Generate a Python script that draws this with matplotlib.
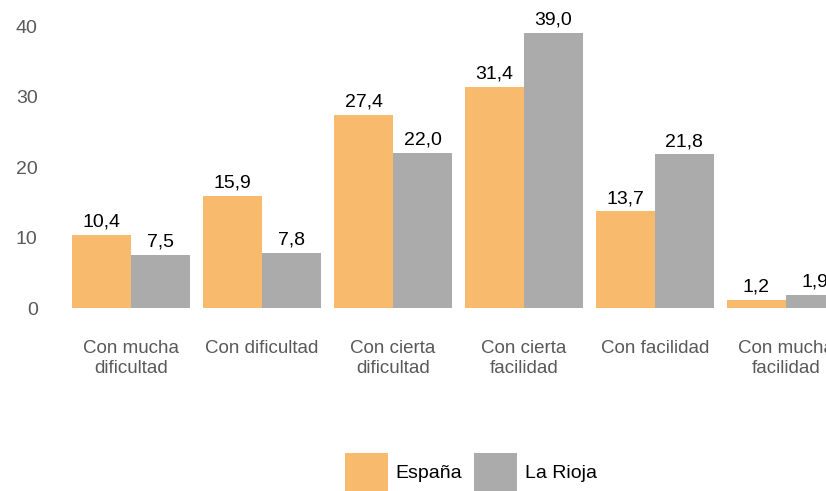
import matplotlib.pyplot as plt
import numpy as np

plt.rcParams["font.family"] = ["Liberation Sans", "DejaVu Sans"]

# datos
categorias = ["Con mucha\ndificultad", "Con dificultad", "Con cierta\ndificultad",
              "Con cierta\nfacilidad", "Con facilidad", "Con mucha\nfacilidad"]
espana = [10.4, 15.9, 27.4, 31.4, 13.7, 1.2]
rioja = [7.5, 7.8, 22.0, 39.0, 21.8, 1.9]

NARANJA = "#F8BA6C"
GRIS = "#ABABAB"
TXT = "#595959"
FS = 13.5

fig = plt.figure(figsize=(8.26, 4.91), dpi=100)
# el eje se sale por la derecha, como en el original
ax = fig.add_axes([0.0793, 0.3727, 0.9515, 0.5743])

x = np.arange(len(categorias))
w = 0.45
b1 = ax.bar(x - w/2, espana, w, color=NARANJA, label="España")
b2 = ax.bar(x + w/2, rioja, w, color=GRIS, label="La Rioja")

fmt = lambda v: f"{v:.1f}".replace(".", ",")
ax.bar_label(b1, labels=[fmt(v) for v in espana], padding=3, fontsize=14, color="black")
ax.bar_label(b2, labels=[fmt(v) for v in rioja], padding=3, fontsize=14, color="black")

ax.set_xlim(-0.5, len(categorias) - 0.5)
ax.set_ylim(0, 40)
ax.set_yticks([0, 10, 20, 30, 40])
ax.set_xticks(x)
ax.set_xticklabels(categorias, fontsize=FS, color=TXT, linespacing=1.2)
ax.tick_params(axis="x", length=0, pad=23)
ax.tick_params(axis="y", length=0, pad=20, labelsize=14, labelcolor=TXT)
for s in ax.spines.values():
    s.set_visible(False)

fig.legend(loc="center", bbox_to_anchor=(471/826, 1 - 472/491), ncol=2,
           frameon=False, fontsize=14, handlelength=2.2, handleheight=2.6,
           handletextpad=0.4, columnspacing=0.6)

fig.savefig("out.png", dpi=100)
